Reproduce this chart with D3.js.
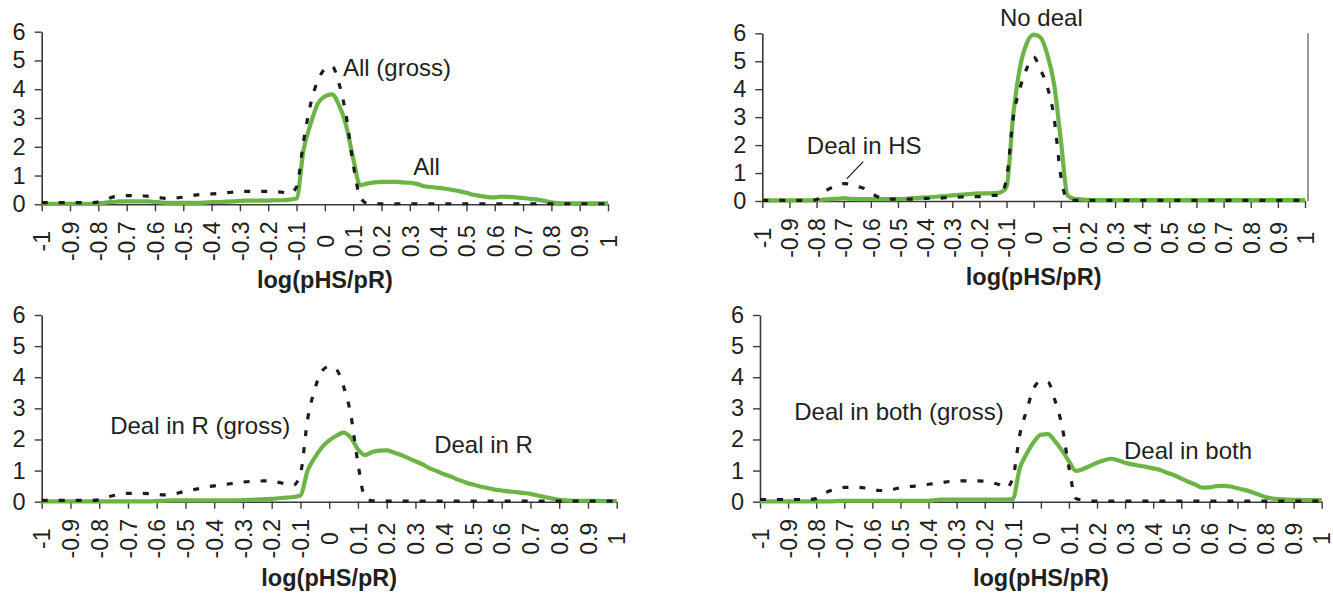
<!DOCTYPE html>
<html>
<head>
<meta charset="utf-8">
<script src="https://cdn.jsdelivr.net/npm/d3@7"></script>
<style>
  html, body { margin: 0; padding: 0; background: #ffffff; }
  svg { display: block; font-family: "Liberation Sans", Arial, Helvetica, sans-serif; }
</style>
</head>
<body>
<svg id="chart" width="1333" height="595"></svg>
<script>
// ---------- data ----------
const xGrid = [
  -1, -0.975, -0.95, -0.925, -0.9, -0.875, -0.85, -0.825,
  -0.8, -0.775, -0.75, -0.725, -0.7, -0.675, -0.65, -0.625,
  -0.6, -0.575, -0.55, -0.525, -0.5, -0.475, -0.45, -0.425,
  -0.4, -0.375, -0.35, -0.325, -0.3, -0.275, -0.25, -0.225,
  -0.2, -0.175, -0.15, -0.125, -0.1, -0.075, -0.05, -0.025,
  0, 0.025, 0.05, 0.075, 0.1, 0.125, 0.15, 0.175,
  0.2, 0.225, 0.25, 0.275, 0.3, 0.325, 0.35, 0.375,
  0.4, 0.425, 0.45, 0.475, 0.5, 0.525, 0.55, 0.575,
  0.6, 0.625, 0.65, 0.675, 0.7, 0.725, 0.75, 0.775,
  0.8, 0.825, 0.85, 0.875, 0.9, 0.925, 0.95, 0.975,
  1
];

// Panel 1: All
const allNet = [
  0.02,0.02,0.02,0.02,0.02,0.02,0.02,0.02,
  0.03,0.06,0.08,0.1,0.1,0.1,0.1,0.1,
  0.08,0.06,0.05,0.05,0.05,0.05,0.05,0.06,
  0.08,0.08,0.09,0.1,0.12,0.13,0.13,0.13,
  0.13,0.14,0.14,0.16,0.2,1.9,2.8,3.5,
  3.75,3.82,3.45,2.75,1.6,0.66,0.72,0.76,
  0.78,0.78,0.78,0.76,0.75,0.71,0.63,0.6,
  0.57,0.54,0.5,0.46,0.4,0.33,0.29,0.25,
  0.24,0.27,0.26,0.24,0.22,0.19,0.16,0.12,
  0.07,0.04,0.03,0.03,0.03,0.03,0.03,0.03,
  0.03
];
const allGross = [
  0.06,0.06,0.06,0.06,0.06,0.06,0.06,0.06,
  0.08,0.15,0.25,0.28,0.3,0.3,0.3,0.28,
  0.25,0.22,0.2,0.22,0.25,0.3,0.33,0.35,
  0.36,0.38,0.4,0.42,0.44,0.45,0.45,0.45,
  0.45,0.44,0.42,0.38,0.6,2.2,3.5,4.3,
  4.7,4.8,4.2,3.1,1.4,0.25,0.03,0.02,
  0.02,0.02,0.02,0.02,0.02,0.02,0.02,0.02,
  0.02,0.02,0.02,0.02,0.02,0.02,0.02,0.02,
  0.02,0.02,0.02,0.02,0.02,0.02,0.02,0.02,
  0.02,0.02,0.02,0.02,0.02,0.02,0.02,0.02,
  0.02
];

// Panel 2: No deal / Deal in HS
const noDeal = [
  0.02,0.02,0.02,0.02,0.02,0.02,0.02,0.02,
  0.03,0.05,0.07,0.08,0.1,0.08,0.07,0.07,
  0.07,0.07,0.07,0.07,0.07,0.08,0.1,0.11,
  0.13,0.14,0.16,0.18,0.2,0.22,0.24,0.26,
  0.27,0.27,0.28,0.3,0.5,3.1,4.8,5.65,
  5.95,5.85,5.25,4.2,2.2,0.2,0.08,0.06,
  0.04,0.03,0.03,0.03,0.03,0.03,0.03,0.03,
  0.03,0.03,0.03,0.03,0.03,0.03,0.03,0.03,
  0.03,0.03,0.03,0.03,0.03,0.03,0.03,0.03,
  0.03,0.03,0.03,0.03,0.03,0.03,0.03,0.03,
  0.03
];
const dealHS = [
  0.02,0.02,0.02,0.02,0.02,0.02,0.02,0.02,
  0.05,0.3,0.45,0.55,0.62,0.6,0.52,0.45,
  0.3,0.15,0.07,0.07,0.07,0.07,0.07,0.08,
  0.09,0.1,0.1,0.12,0.13,0.14,0.15,0.15,
  0.16,0.17,0.2,0.2,0.8,3.0,4.05,4.75,
  5.15,4.7,4.1,3.0,0.9,0.05,0.02,0.02,
  0.02,0.02,0.02,0.02,0.02,0.02,0.02,0.02,
  0.02,0.02,0.02,0.02,0.02,0.02,0.02,0.02,
  0.02,0.02,0.02,0.02,0.02,0.02,0.02,0.02,
  0.02,0.02,0.02,0.02,0.02,0.02,0.02,0.02,
  0.02
];

// Panel 3: Deal in R
const dealR = [
  0.01,0.01,0.01,0.01,0.01,0.01,0.01,0.01,
  0.01,0.01,0.01,0.01,0.01,0.01,0.01,0.01,
  0.02,0.03,0.04,0.04,0.04,0.04,0.04,0.04,
  0.04,0.04,0.04,0.04,0.05,0.06,0.07,0.08,
  0.09,0.11,0.13,0.15,0.2,1.0,1.42,1.75,
  1.97,2.12,2.22,2.06,1.68,1.5,1.6,1.64,
  1.65,1.58,1.5,1.4,1.3,1.2,1.07,0.98,
  0.88,0.8,0.7,0.62,0.55,0.49,0.44,0.39,
  0.36,0.33,0.31,0.28,0.25,0.2,0.15,0.1,
  0.06,0.04,0.03,0.03,0.03,0.03,0.02,0.02,
  0.02
];
const dealRGross = [
  0.04,0.04,0.04,0.04,0.04,0.04,0.04,0.04,
  0.06,0.14,0.2,0.25,0.27,0.27,0.27,0.26,
  0.24,0.22,0.23,0.28,0.34,0.38,0.43,0.48,
  0.51,0.54,0.57,0.6,0.63,0.65,0.66,0.67,
  0.66,0.62,0.56,0.53,0.9,2.65,3.62,4.2,
  4.35,4.25,3.7,2.8,1.23,0.12,0.03,0.02,
  0.02,0.02,0.02,0.02,0.02,0.02,0.02,0.02,
  0.02,0.02,0.02,0.02,0.02,0.02,0.02,0.02,
  0.02,0.02,0.02,0.02,0.02,0.02,0.02,0.02,
  0.02,0.02,0.02,0.02,0.02,0.02,0.02,0.02,
  0.02
];

// Panel 4: Deal in both
const dealBoth = [
  0.01,0.01,0.01,0.01,0.01,0.01,0.01,0.01,
  0.01,0.01,0.01,0.02,0.03,0.03,0.03,0.03,
  0.03,0.03,0.03,0.03,0.03,0.03,0.03,0.03,
  0.03,0.05,0.07,0.07,0.07,0.07,0.07,0.07,
  0.07,0.07,0.07,0.07,0.08,1.08,1.55,1.92,
  2.15,2.17,1.95,1.65,1.3,0.99,1.05,1.15,
  1.25,1.33,1.38,1.33,1.25,1.2,1.16,1.12,
  1.07,1.02,0.93,0.85,0.74,0.64,0.55,0.45,
  0.46,0.5,0.51,0.49,0.43,0.38,0.31,0.23,
  0.15,0.1,0.08,0.07,0.06,0.06,0.05,0.05,
  0.05
];
const dealBothGross = [
  0.07,0.07,0.07,0.07,0.07,0.07,0.07,0.07,
  0.1,0.25,0.35,0.42,0.46,0.46,0.46,0.44,
  0.4,0.36,0.36,0.4,0.45,0.48,0.5,0.53,
  0.56,0.59,0.62,0.65,0.66,0.67,0.67,0.67,
  0.66,0.61,0.55,0.43,0.75,2.15,2.95,3.65,
  3.87,3.85,3.26,2.45,1.1,0.1,0.05,0.02,
  0.02,0.02,0.02,0.02,0.02,0.02,0.02,0.02,
  0.02,0.02,0.02,0.02,0.02,0.02,0.02,0.02,
  0.02,0.02,0.02,0.02,0.02,0.02,0.02,0.02,
  0.02,0.02,0.02,0.02,0.02,0.02,0.02,0.02,
  0.02
];

const xTicks = [-1,-0.9,-0.8,-0.7,-0.6,-0.5,-0.4,-0.3,-0.2,-0.1,0,0.1,0.2,0.3,0.4,0.5,0.6,0.7,0.8,0.9,1];
const xTickLabels = ["-1","-0.9","-0.8","-0.7","-0.6","-0.5","-0.4","-0.3","-0.2","-0.1","0","0.1","0.2","0.3","0.4","0.5","0.6","0.7","0.8","0.9","1"];
const yTicks = [0,1,2,3,4,5,6];
const xTitle = "log(pHS/pR)";

// ---------- layout ----------
const GREEN = "#6db446";
const DARK = "#1c1c1c";
const AXIS = "#3a3a3a";
const TEXT = "#231f20";

const panels = [
  { net: allNet, gross: allGross, px: [41.7, 608], py: [204.3, 31.7],
    labels: [ {t: "All (gross)", x: 0.064, y: 4.45}, {t: "All", x: 0.312, y: 1.02} ] },
  { net: noDeal, gross: dealHS, px: [762.3, 1305], py: [201, 33.3], rightLine: true,
    labels: [ {t: "No deal", x: -0.124, y: 6.27}, {t: "Deal in HS", x: -0.836, y: 1.68} ],
    leader: [[-0.628, 1.41], [-0.689, 0.79]] },
  { net: dealR, gross: dealRGross, px: [41.7, 616.7], py: [501.7, 315],
    labels: [ {t: "Deal in R (gross)", x: -0.762, y: 2.18}, {t: "Deal in R", x: 0.365, y: 1.56} ] },
  { net: dealBoth, gross: dealBothGross, px: [760, 1321.7], py: [501.7, 315],
    labels: [ {t: "Deal in both (gross)", x: -0.878, y: 2.63}, {t: "Deal in both", x: 0.296, y: 1.36} ] }
];

const svg = d3.select("#chart");
svg.append("rect").attr("width", 1333).attr("height", 595).attr("fill", "#fff");

panels.forEach(p => {
  const x = d3.scaleLinear().domain([-1, 1]).range(p.px);
  const y = d3.scaleLinear().domain([0, 6]).range(p.py);
  const g = svg.append("g");

  if (p.rightLine) {
    g.append("line")
      .attr("x1", x(1) + 3).attr("x2", x(1) + 3)
      .attr("y1", y(6)).attr("y2", y(0))
      .attr("stroke", "#9a9a9a").attr("stroke-width", 2);
  }

  // x axis
  const xa = g.append("g")
    .attr("transform", `translate(0,${y(0)})`)
    .call(d3.axisBottom(x).tickValues(xTicks).tickSize(7).tickSizeOuter(0)
      .tickFormat((d, i) => xTickLabels[i]));
  xa.select(".domain").attr("stroke", AXIS).attr("stroke-width", 1.6);
  xa.selectAll(".tick line").attr("stroke", AXIS).attr("stroke-width", 1.4);
  xa.selectAll(".tick text")
    .attr("transform", "rotate(-90)")
    .attr("x", -37).attr("y", 0).attr("dy", "0.36em")
    .attr("text-anchor", "middle")
    .attr("fill", TEXT)
    .style("font-size", "23px")
    .style("font-family", "'Liberation Sans', Arial, sans-serif");

  // y axis
  const ya = g.append("g")
    .attr("transform", `translate(${x(-1)},0)`)
    .call(d3.axisLeft(y).tickValues(yTicks).tickSize(7).tickPadding(9).tickSizeOuter(0)
      .tickFormat(d3.format("d")));
  ya.select(".domain").attr("stroke", AXIS).attr("stroke-width", 1.6);
  ya.selectAll(".tick line").attr("stroke", AXIS).attr("stroke-width", 1.4);
  ya.selectAll(".tick text")
    .attr("fill", TEXT)
    .style("font-size", "23.5px")
    .style("font-family", "'Liberation Sans', Arial, sans-serif");

  // axis title
  g.append("text")
    .attr("x", x(0)).attr("y", y(0) + 84)
    .attr("text-anchor", "middle")
    .attr("fill", TEXT)
    .style("font-size", "23.5px").style("font-weight", "bold")
    .text(xTitle);

  const line = d3.line()
    .x((d, i) => x(xGrid[i]))
    .y(d => y(d))
    .curve(d3.curveMonotoneX);

  g.append("path").datum(p.net)
    .attr("d", line)
    .attr("fill", "none")
    .attr("stroke", GREEN).attr("stroke-width", 4.2)
    .attr("stroke-linejoin", "round");

  g.append("path").datum(p.gross)
    .attr("d", line)
    .attr("fill", "none")
    .attr("stroke", DARK).attr("stroke-width", 3.2)
    .attr("stroke-dasharray", "6,11");

  p.labels.forEach(l => {
    g.append("text")
      .attr("x", x(l.x)).attr("y", y(l.y))
      .attr("fill", TEXT)
      .style("font-size", "24px")
      .text(l.t);
  });

  if (p.leader) {
    g.append("line")
      .attr("x1", x(p.leader[0][0])).attr("y1", y(p.leader[0][1]))
      .attr("x2", x(p.leader[1][0])).attr("y2", y(p.leader[1][1]))
      .attr("stroke", DARK).attr("stroke-width", 1.2);
  }
});
</script>
</body>
</html>
